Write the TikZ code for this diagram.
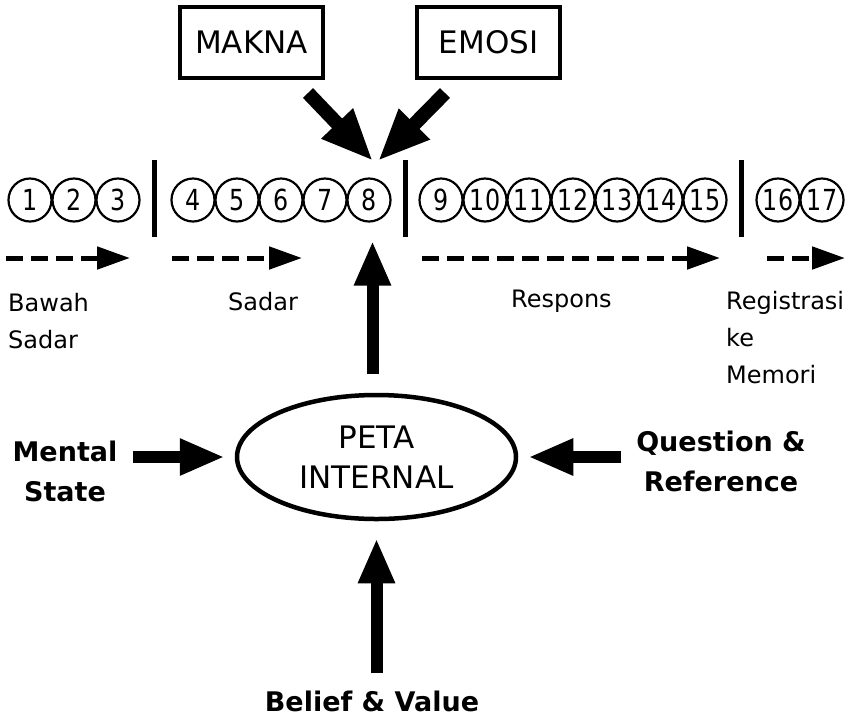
\documentclass[tikz,border=0pt]{standalone}
\usepackage{fontspec}
\setmainfont{DejaVu Sans}
\newfontfamily\stepfont[FakeStretch=0.82]{DejaVu Sans}
\usetikzlibrary{positioning, shapes.geometric, arrows.meta, calc}

\begin{document}
\begin{tikzpicture}[x=1pt, y=-1pt,
  numcirc/.style={circle, draw, line width=2.2pt, minimum size=43pt, inner sep=0pt,
                  font=\stepfont\fontsize{29}{32}\selectfont},
  wordbox/.style={draw, line width=4pt, minimum width=143pt, minimum height=71pt,
                  inner sep=0pt, font=\fontsize{31}{36}\selectfont},
  stagelbl/.style={anchor=north west, align=left, inner sep=0pt,
                   font=\fontsize{24}{37}\selectfont},
  inputlbl/.style={anchor=north, align=center, inner sep=0pt,
                   font=\fontsize{27}{40}\selectfont\bfseries},
  bigarrow/.style={line width=12pt, -{Triangle[length=45pt, width=34pt]}},
  flow/.style={line width=5pt, dash pattern=on 17pt off 8pt,
               -{Triangle[length=33pt, width=22pt]}}]
  \useasboundingbox (0,0) rectangle (856,721);

  % Top boxes
  \node[wordbox] (makna) at (251.5,42.5) {MAKNA};
  \node[wordbox] (emosi) at (488.5,42.5) {EMOSI};
  \coordinate (hub) at (375,161);
  \draw[bigarrow, line width=14pt, -{Triangle[length=52pt, width=40pt]}]
    ([xshift=-17pt, yshift=-13pt]makna.south east) -- ([xshift=-2pt]hub);
  \draw[bigarrow, line width=14pt, -{Triangle[length=52pt, width=40pt]}]
    ([xshift=30pt, yshift=-13pt]emosi.south west) -- ([xshift=3pt]hub);

  % Numbered steps
  \foreach \n/\x in {1/30, 2/74, 3/118, 4/193, 5/237, 6/281, 7/325, 8/369,
                     9/441, 10/485, 11/529, 12/573, 13/617, 14/661, 15/705,
                     16/778, 17/822} {
    \node[numcirc] (c\n) at (\x,200) {\n};
  }
  \foreach \x in {154, 405, 741} {
    \draw[line width=5pt] (\x,160) -- (\x,237);
  }

  % Flow
  \foreach \a/\b in {6/130, 172/302, 422/720, 767/845} {
    \draw[flow] (\a,258) -- (\b,258);
  }
  \node[stagelbl] (bawah) at (8,293) {Bawah\\Sadar};
  \node[stagelbl] (sadar) at (228,292) {Sadar};
  \node[stagelbl] (respons) at (511,290) {Respons};
  \node[stagelbl] (regis) at (726,291) {Registrasi\\ke\\Memori};

  % Internal map
  \node[ellipse, draw, line width=4.5pt, minimum width=279pt, minimum height=124pt,
        inner sep=0pt, align=center, font=\fontsize{31}{40}\selectfont]
    (peta) at (376.5,457) {PETA\\INTERNAL};
  \draw[bigarrow, shorten <=19pt, shorten >=18pt]
    ([xshift=-4pt]peta.north) -- ([xshift=-4pt]peta.north |- c8.south);

  % Inputs
  \node[inputlbl] (mental) at (65,441) {Mental\\State};
  \node[inputlbl] (question) at (721,431) {Question \&\\Reference};
  \node[inputlbl] (belief) at (372,691) {Belief \& Value};
  \draw[bigarrow, shorten <=15pt, shorten >=10pt] (mental.east |- peta.west) -- (peta.west);
  \draw[bigarrow, shorten <=15pt, shorten >=10pt] (question.west |- peta.east) -- (peta.east);
  \draw[bigarrow, shorten <=18pt, shorten >=17pt] (belief.north -| peta.south) -- (peta.south);
\end{tikzpicture}
\end{document}
